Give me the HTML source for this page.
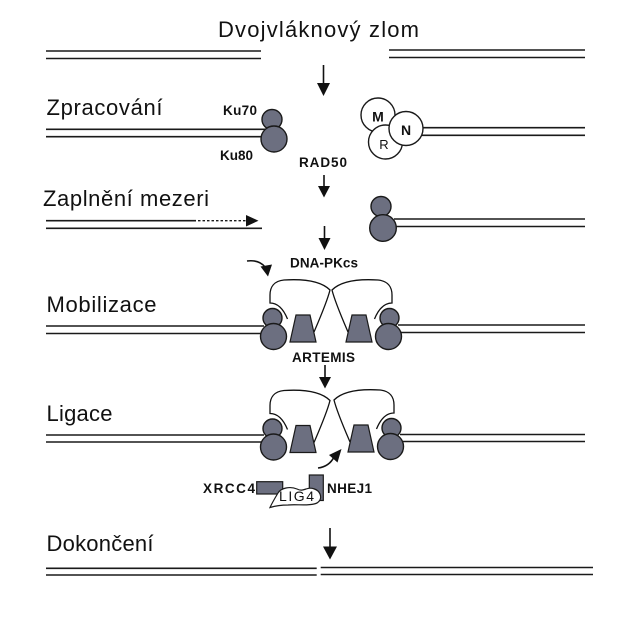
<!DOCTYPE html>
<html>
<head>
<meta charset="utf-8">
<style>
  html, body { margin: 0; padding: 0; background: #ffffff; }
  svg { display: block; }
  text { font-family: "Liberation Sans", Arial, sans-serif; fill: #111; }
</style>
</head>
<body>
<svg width="642" height="623" viewBox="0 0 642 623" xmlns="http://www.w3.org/2000/svg">
  <rect width="642" height="623" fill="#ffffff"/>

  <!-- ===== Title ===== -->
  <text x="218" y="37" font-size="22" textLength="201">Dvojvláknový zlom</text>
  <g stroke="#1a1a1a" stroke-width="1.6">
    <line x1="46" y1="51" x2="261" y2="51"/>
    <line x1="46" y1="58.5" x2="261" y2="58.5"/>
    <line x1="389" y1="50" x2="585" y2="50"/>
    <line x1="389" y1="57.5" x2="585" y2="57.5"/>
  </g>
  <!-- arrow 1 -->
  <line x1="323.5" y1="65" x2="323.5" y2="85" stroke="#111" stroke-width="1.6"/>
  <polygon points="317,83 330,83 323.5,96" fill="#111"/>

  <!-- ===== Zpracování ===== -->
  <text x="46.5" y="115" font-size="22" textLength="116">Zpracování</text>
  <g stroke="#1a1a1a" stroke-width="1.6">
    <line x1="46" y1="129.3" x2="266" y2="129.3"/>
    <line x1="46" y1="136.7" x2="266" y2="136.7"/>
    <line x1="420" y1="127.7" x2="585" y2="127.7"/>
    <line x1="420" y1="135.3" x2="585" y2="135.3"/>
  </g>
  <circle cx="272" cy="119.5" r="10" fill="#6c6f80" stroke="#1a1a1a" stroke-width="1.4"/>
  <circle cx="274" cy="139" r="13" fill="#6c6f80" stroke="#1a1a1a" stroke-width="1.4"/>
  <text x="223" y="115" font-size="13.5" font-weight="bold" textLength="34">Ku70</text>
  <text x="220" y="160" font-size="13.5" font-weight="bold" textLength="33">Ku80</text>
  <text x="299" y="167" font-size="13.5" font-weight="bold" textLength="48">RAD50</text>

  <!-- MRN complex -->
  <circle cx="378" cy="115" r="17" fill="#fff" stroke="#1a1a1a" stroke-width="1.4"/>
  <circle cx="385.5" cy="142" r="17" fill="#fff" stroke="#1a1a1a" stroke-width="1.4"/>
  <circle cx="406" cy="128.5" r="17" fill="#fff" stroke="#1a1a1a" stroke-width="1.4"/>
  <text x="378" y="121.5" font-size="14" font-weight="bold" text-anchor="middle">M</text>
  <text x="406" y="135" font-size="14" font-weight="bold" text-anchor="middle">N</text>
  <text x="384" y="149" font-size="13" text-anchor="middle">R</text>

  <!-- arrow 2 -->
  <line x1="324" y1="175" x2="324" y2="188" stroke="#111" stroke-width="1.6"/>
  <polygon points="318,186 330,186 324,197.5" fill="#111"/>

  <!-- ===== Zaplnění mezeri ===== -->
  <text x="43" y="206" font-size="22" textLength="166">Zaplnění mezeri</text>
  <g stroke="#1a1a1a" stroke-width="1.6">
    <line x1="46" y1="220.7" x2="196" y2="220.7"/>
    <line x1="198" y1="220.7" x2="248" y2="220.7" stroke-dasharray="2.5,2" stroke-width="1.4"/>
    <line x1="46" y1="228.3" x2="262" y2="228.3"/>
    <line x1="394" y1="219" x2="585" y2="219"/>
    <line x1="394" y1="226.5" x2="585" y2="226.5"/>
  </g>
  <polygon points="246,215 258.5,220.7 246,226.5" fill="#111"/>
  <circle cx="381" cy="206.5" r="10" fill="#6c6f80" stroke="#1a1a1a" stroke-width="1.4"/>
  <circle cx="383" cy="228" r="13.3" fill="#6c6f80" stroke="#1a1a1a" stroke-width="1.4"/>

  <!-- arrow 3 -->
  <line x1="324.5" y1="226" x2="324.5" y2="240" stroke="#111" stroke-width="1.6"/>
  <polygon points="318.5,238 330.5,238 324.5,250" fill="#111"/>

  <!-- ===== Mobilizace ===== -->
  <text x="290" y="267.5" font-size="13.5" font-weight="bold" textLength="68">DNA-PKcs</text>
  <path d="M247,261 C255,260 261,262 265,267" fill="none" stroke="#111" stroke-width="1.6"/>
  <polygon points="260.5,266.5 272,264.5 268,276.5" fill="#111"/>

  <text x="46.5" y="312" font-size="22" textLength="110">Mobilizace</text>
  <g stroke="#1a1a1a" stroke-width="1.6">
    <line x1="46" y1="326" x2="264" y2="326"/>
    <line x1="46" y1="333.5" x2="264" y2="333.5"/>
    <line x1="398" y1="325" x2="585" y2="325"/>
    <line x1="398" y1="332.5" x2="585" y2="332.5"/>
  </g>

  <defs>
    <g id="lobe">
      <path d="M330,290 C320,280 300,279 284,280 C274,281 270,287 270,295 L270,303 C277,303 283,308 286,314 L292,334 L314,332 C320,318 327,302 330,290 Z" fill="#fff" stroke="none"/>
      <path d="M314,332 C320,318 327,302 330,290 C320,280 300,279 284,280 C274,281 270,287 270,295 L270,303 C277,303 283,308 287.5,319" fill="none" stroke="#111" stroke-width="1.3"/>
      <polygon points="296,315 310,315 316,342 290,342" fill="#6c6f80" stroke="#1a1a1a" stroke-width="1.2"/>
      <circle cx="272.5" cy="318" r="9.5" fill="#6c6f80" stroke="#1a1a1a" stroke-width="1.4"/>
      <circle cx="273.5" cy="336.5" r="13" fill="#6c6f80" stroke="#1a1a1a" stroke-width="1.4"/>
    </g>
  </defs>

  <use href="#lobe"/>
  <g transform="translate(662,0) scale(-1,1)"><use href="#lobe"/></g>

  <text x="292" y="362" font-size="13.5" font-weight="bold" textLength="63">ARTEMIS</text>

  <!-- arrow 4 -->
  <line x1="325" y1="365" x2="325" y2="379" stroke="#111" stroke-width="1.6"/>
  <polygon points="319,377 331,377 325,388.5" fill="#111"/>

  <!-- ===== Ligace ===== -->
  <text x="46.5" y="421" font-size="22" textLength="66">Ligace</text>
  <g stroke="#1a1a1a" stroke-width="1.6">
    <line x1="46" y1="435" x2="264" y2="435"/>
    <line x1="46" y1="442" x2="264" y2="442"/>
    <line x1="400" y1="434.5" x2="585" y2="434.5"/>
    <line x1="400" y1="441.5" x2="585" y2="441.5"/>
  </g>
  <g transform="translate(0,110.5)"><use href="#lobe"/></g>
  <g transform="translate(664,110) scale(-1,1)"><use href="#lobe"/></g>

  <!-- curved arrow ligace -->
  <path d="M318,468 C326,467 331,463 334,457" fill="none" stroke="#111" stroke-width="1.6"/>
  <polygon points="329,455 337.5,462.5 341.5,449" fill="#111"/>

  <!-- XRCC4 / LIG4 / NHEJ1 -->
  <text x="203" y="493" font-size="13.5" font-weight="bold" textLength="52">XRCC4</text>
  <rect x="256.7" y="481.7" width="26" height="12.3" fill="#6c6f80" stroke="#1a1a1a" stroke-width="1.2"/>
  <rect x="309.3" y="475" width="14" height="25.5" fill="#6c6f80" stroke="#1a1a1a" stroke-width="1.2"/>
  <path d="M278,493 C281,488 290,486 297,489 C301,491 303,490 306,489 C311,487 318,489 320,494 C322,499 319,503 314,504 C306,506 296,504 288,505 C282,505 275,506 270,507.5 C272,503 275,498 278,493 Z" fill="#fff" stroke="#1a1a1a" stroke-width="1.2"/>
  <text x="279" y="501" font-size="14" textLength="35">LIG4</text>
  <text x="327" y="493" font-size="13.5" font-weight="bold" textLength="45">NHEJ1</text>

  <!-- ===== Dokončení ===== -->
  <text x="46.5" y="551" font-size="22" textLength="107">Dokončení</text>
  <line x1="330" y1="528" x2="330" y2="549" stroke="#111" stroke-width="1.6"/>
  <polygon points="323,546.5 337,546.5 330,559.5" fill="#111"/>
  <g stroke="#1a1a1a" stroke-width="1.6">
    <line x1="46" y1="568.3" x2="316.7" y2="568.3"/>
    <line x1="46" y1="575" x2="316.7" y2="575"/>
    <line x1="320.7" y1="567.5" x2="593" y2="567.5"/>
    <line x1="320.7" y1="574.5" x2="593" y2="574.5"/>
  </g>
</svg>
</body>
</html>
